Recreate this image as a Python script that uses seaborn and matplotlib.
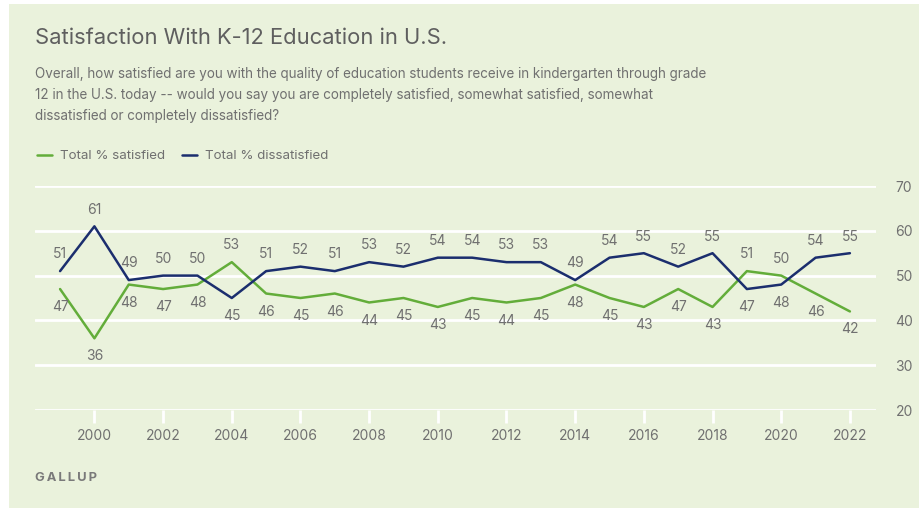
import matplotlib.pyplot as plt
import seaborn as sns
import pandas as pd
from matplotlib.patches import Rectangle
from matplotlib.lines import Line2D

years = list(range(1999, 2023))
satisfied = [47, 36, 48, 47, 48, 53, 46, 45, 46, 44, 45, 43, 45, 44, 45, 48,
             45, 43, 47, 43, 51, 50, 46, 42]
dissatisfied = [51, 61, 49, 50, 50, 45, 51, 52, 51, 53, 52, 54, 54, 53, 53, 49,
                54, 55, 52, 55, 47, 48, 54, 55]
series_names = ["Total % satisfied", "Total % dissatisfied"]
xtick_years = list(range(2000, 2023, 2))
yticks = [20, 30, 40, 50, 60, 70]

bg = "#eaf2dc"
green = "#63ad3a"
navy = "#1b2e6e"
grey = "#707070"

sns.set_theme(style="white")
plt.rcParams['font.family'] = ['Inter', 'DejaVu Sans']

df = pd.DataFrame({
    "year": years * 2,
    "value": satisfied + dissatisfied,
    "series": [series_names[0]] * len(years) + [series_names[1]] * len(years),
})

fig = plt.figure(figsize=(9.19, 5.12), dpi=100, facecolor="white")
fig.patches.append(Rectangle((9 / 919, 4 / 512), 1 - 9 / 919, 1 - 8 / 512,
                             transform=fig.transFigure, facecolor=bg,
                             edgecolor="none", zorder=-10))

ax = fig.add_axes([35 / 919, 102 / 512, 841 / 919, 224 / 512])
ax.set_facecolor(bg)
ax.patch.set_alpha(0)

sns.lineplot(data=df, x="year", y="value", hue="series",
             palette={series_names[0]: green, series_names[1]: navy},
             linewidth=1.8, legend=False, ax=ax, zorder=3)

ax.set_xlim(1998.27, 2022.76)
ax.set_ylim(20, 70)
for y in yticks:
    ax.axhline(y, color="white", lw=2, zorder=1)

ax.yaxis.tick_right()
ax.set_yticks(yticks)
ax.set_yticklabels([str(v) for v in yticks])
ax.tick_params(axis="y", length=0, pad=14, labelsize=10, labelcolor=grey)
ax.set_xticks(xtick_years)
ax.tick_params(axis="x", length=9, width=2, color="white", pad=5,
               labelsize=10, labelcolor=grey, bottom=True)
ax.set_xlabel("")
ax.set_ylabel("")
for s in ax.spines.values():
    s.set_visible(False)

for yr, s, d in zip(years, satisfied, dissatisfied):
    s_off, d_off = (12, -13) if s > d else (-13, 12)
    ax.annotate(str(s), (yr, s), xytext=(0, s_off), textcoords="offset points",
                ha="center", va="center", fontsize=10, color=grey)
    ax.annotate(str(d), (yr, d), xytext=(0, d_off), textcoords="offset points",
                ha="center", va="center", fontsize=10, color=grey)

fig.text(35 / 919, 1 - 38 / 512, "Satisfaction With K-12 Education in U.S.",
         fontsize=15.8, color="#5f5f5f", va="center", ha="left")
subtitle = ("Overall, how satisfied are you with the quality of education students receive in kindergarten through grade\n"
            "12 in the U.S. today -- would you say you are completely satisfied, somewhat satisfied, somewhat\n"
            "dissatisfied or completely dissatisfied?")
fig.text(35 / 919, 1 - 67 / 512, subtitle, fontsize=9.7, color=grey,
         va="top", ha="left", linespacing=1.62)

handles = [Line2D([], [], color=green, lw=1.8), Line2D([], [], color=navy, lw=1.8)]
fig.legend(handles, series_names, loc="center left",
           bbox_to_anchor=(25 / 919, 1 - 156 / 512), ncol=2, frameon=False,
           fontsize=9.6, labelcolor=grey, handlelength=1.1, handletextpad=0.6,
           columnspacing=1.3)

fig.text(35 / 919, 1 - 478 / 512, "G A L L U P".replace(" ", "\u2009"),
         fontsize=9.3, color="#7a7a7a",
         fontweight="bold", va="center", ha="left")

fig.savefig("out.png", dpi=100, facecolor=fig.get_facecolor())
